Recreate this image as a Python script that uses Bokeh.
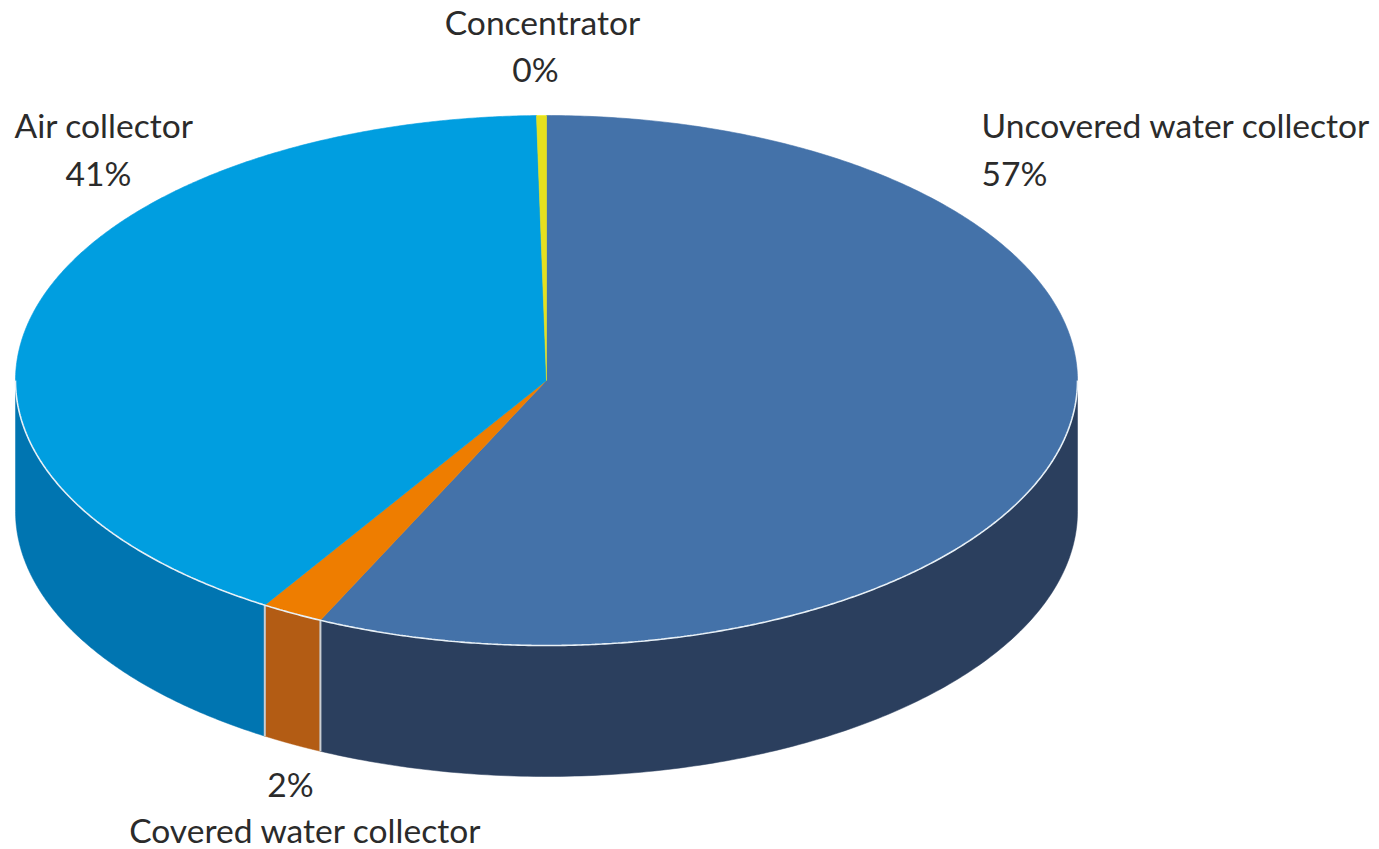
import numpy as np
from bokeh.plotting import figure
from bokeh.models import ColumnDataSource
from bokeh.core.properties import value
from bokeh.embed import file_html
from bokeh.resources import INLINE

categories = ["Uncovered water collector", "Covered water collector", "Air collector", "Concentrator"]
shares = [57.0, 1.9, 40.8, 0.3]
percent_labels = ["57%", "2%", "41%", "0%"]
top_colors = ["#4472A9", "#EE7D00", "#009EE0", "#E6E01E"]
wall_colors = ["#2B3F5E", "#B35C14", "#0075B1", "#A8A416"]

CX, CY, RX, RY, DEPTH = 546.0, 380.0, 531.0, 265.0, 131.0
FONT = "Lato"
FS = "33.6px"
TXT = "#2b2b2b"

def pt(a, dy=0.0):
    a = np.radians(a)
    return CX + RX * np.sin(a), CY - RY * np.cos(a) + dy

p = figure(width=1379, height=849, x_range=(0, 1379), y_range=(849, 0),
           x_axis_type=None, y_axis_type=None, toolbar_location=None,
           output_backend="svg", min_border=0, outline_line_color=None)
p.grid.visible = False
p.background_fill_color = "white"
p.border_fill_color = "white"

edges = np.concatenate([[0], np.cumsum(shares)]) / sum(shares) * 360.0

# side walls (only the front half of the disc is visible)
wx, wy, wc = [], [], []
for i in range(len(shares)):
    a0, a1 = max(edges[i], 90.0), min(edges[i + 1], 270.0)
    if a1 <= a0:
        continue
    ang = np.linspace(a0, a1, 160)
    tx, ty = pt(ang)
    bx, by = pt(ang[::-1], DEPTH)
    wx.append(np.concatenate([tx, bx]))
    wy.append(np.concatenate([ty, by]))
    wc.append(wall_colors[i])
p.patches(wx, wy, fill_color=wc, line_color=wc, line_width=0.5)

# light separators between the walls
for e in edges[1:-1]:
    if 90.0 < e < 270.0:
        x0, y0 = pt(e)
        x1, y1 = pt(e, DEPTH)
        p.line([x0, x1], [y0, y1], line_color="#C9CDD2", line_width=2)

# top faces
sx, sy, sc = [], [], []
for i in range(len(shares)):
    ang = np.linspace(edges[i], edges[i + 1], 400)
    ax, ay = pt(ang)
    sx.append(np.concatenate([[CX], ax]))
    sy.append(np.concatenate([[CY], ay]))
    sc.append(top_colors[i])
p.patches(sx, sy, fill_color=sc, line_color=sc, line_width=0.6)

# bright rim where the top meets the wall
ang = np.linspace(90, 270, 500)
rx, ry = pt(ang)
p.line(rx, ry, line_color="#E8F0F6", line_width=1.6)

# labels: name / percent, anchored as in the source
lab = ColumnDataSource(dict(
    x=[981, 981, 14, 98, 542, 535, 305, 290],
    y=[124, 172, 124, 172, 21.5, 68.5, 829.5, 783.5],
    t=[categories[0], percent_labels[0], categories[2], percent_labels[2],
       categories[3], percent_labels[3], categories[1], percent_labels[1]],
    a=["left", "left", "left", "center", "center", "center", "center", "center"],
))
p.text(x="x", y="y", text="t", text_align="a", source=lab, text_baseline="middle",
       text_font=value(FONT), text_font_size=value(FS), text_color=TXT)

open("out.html", "w").write(file_html(p, INLINE))
